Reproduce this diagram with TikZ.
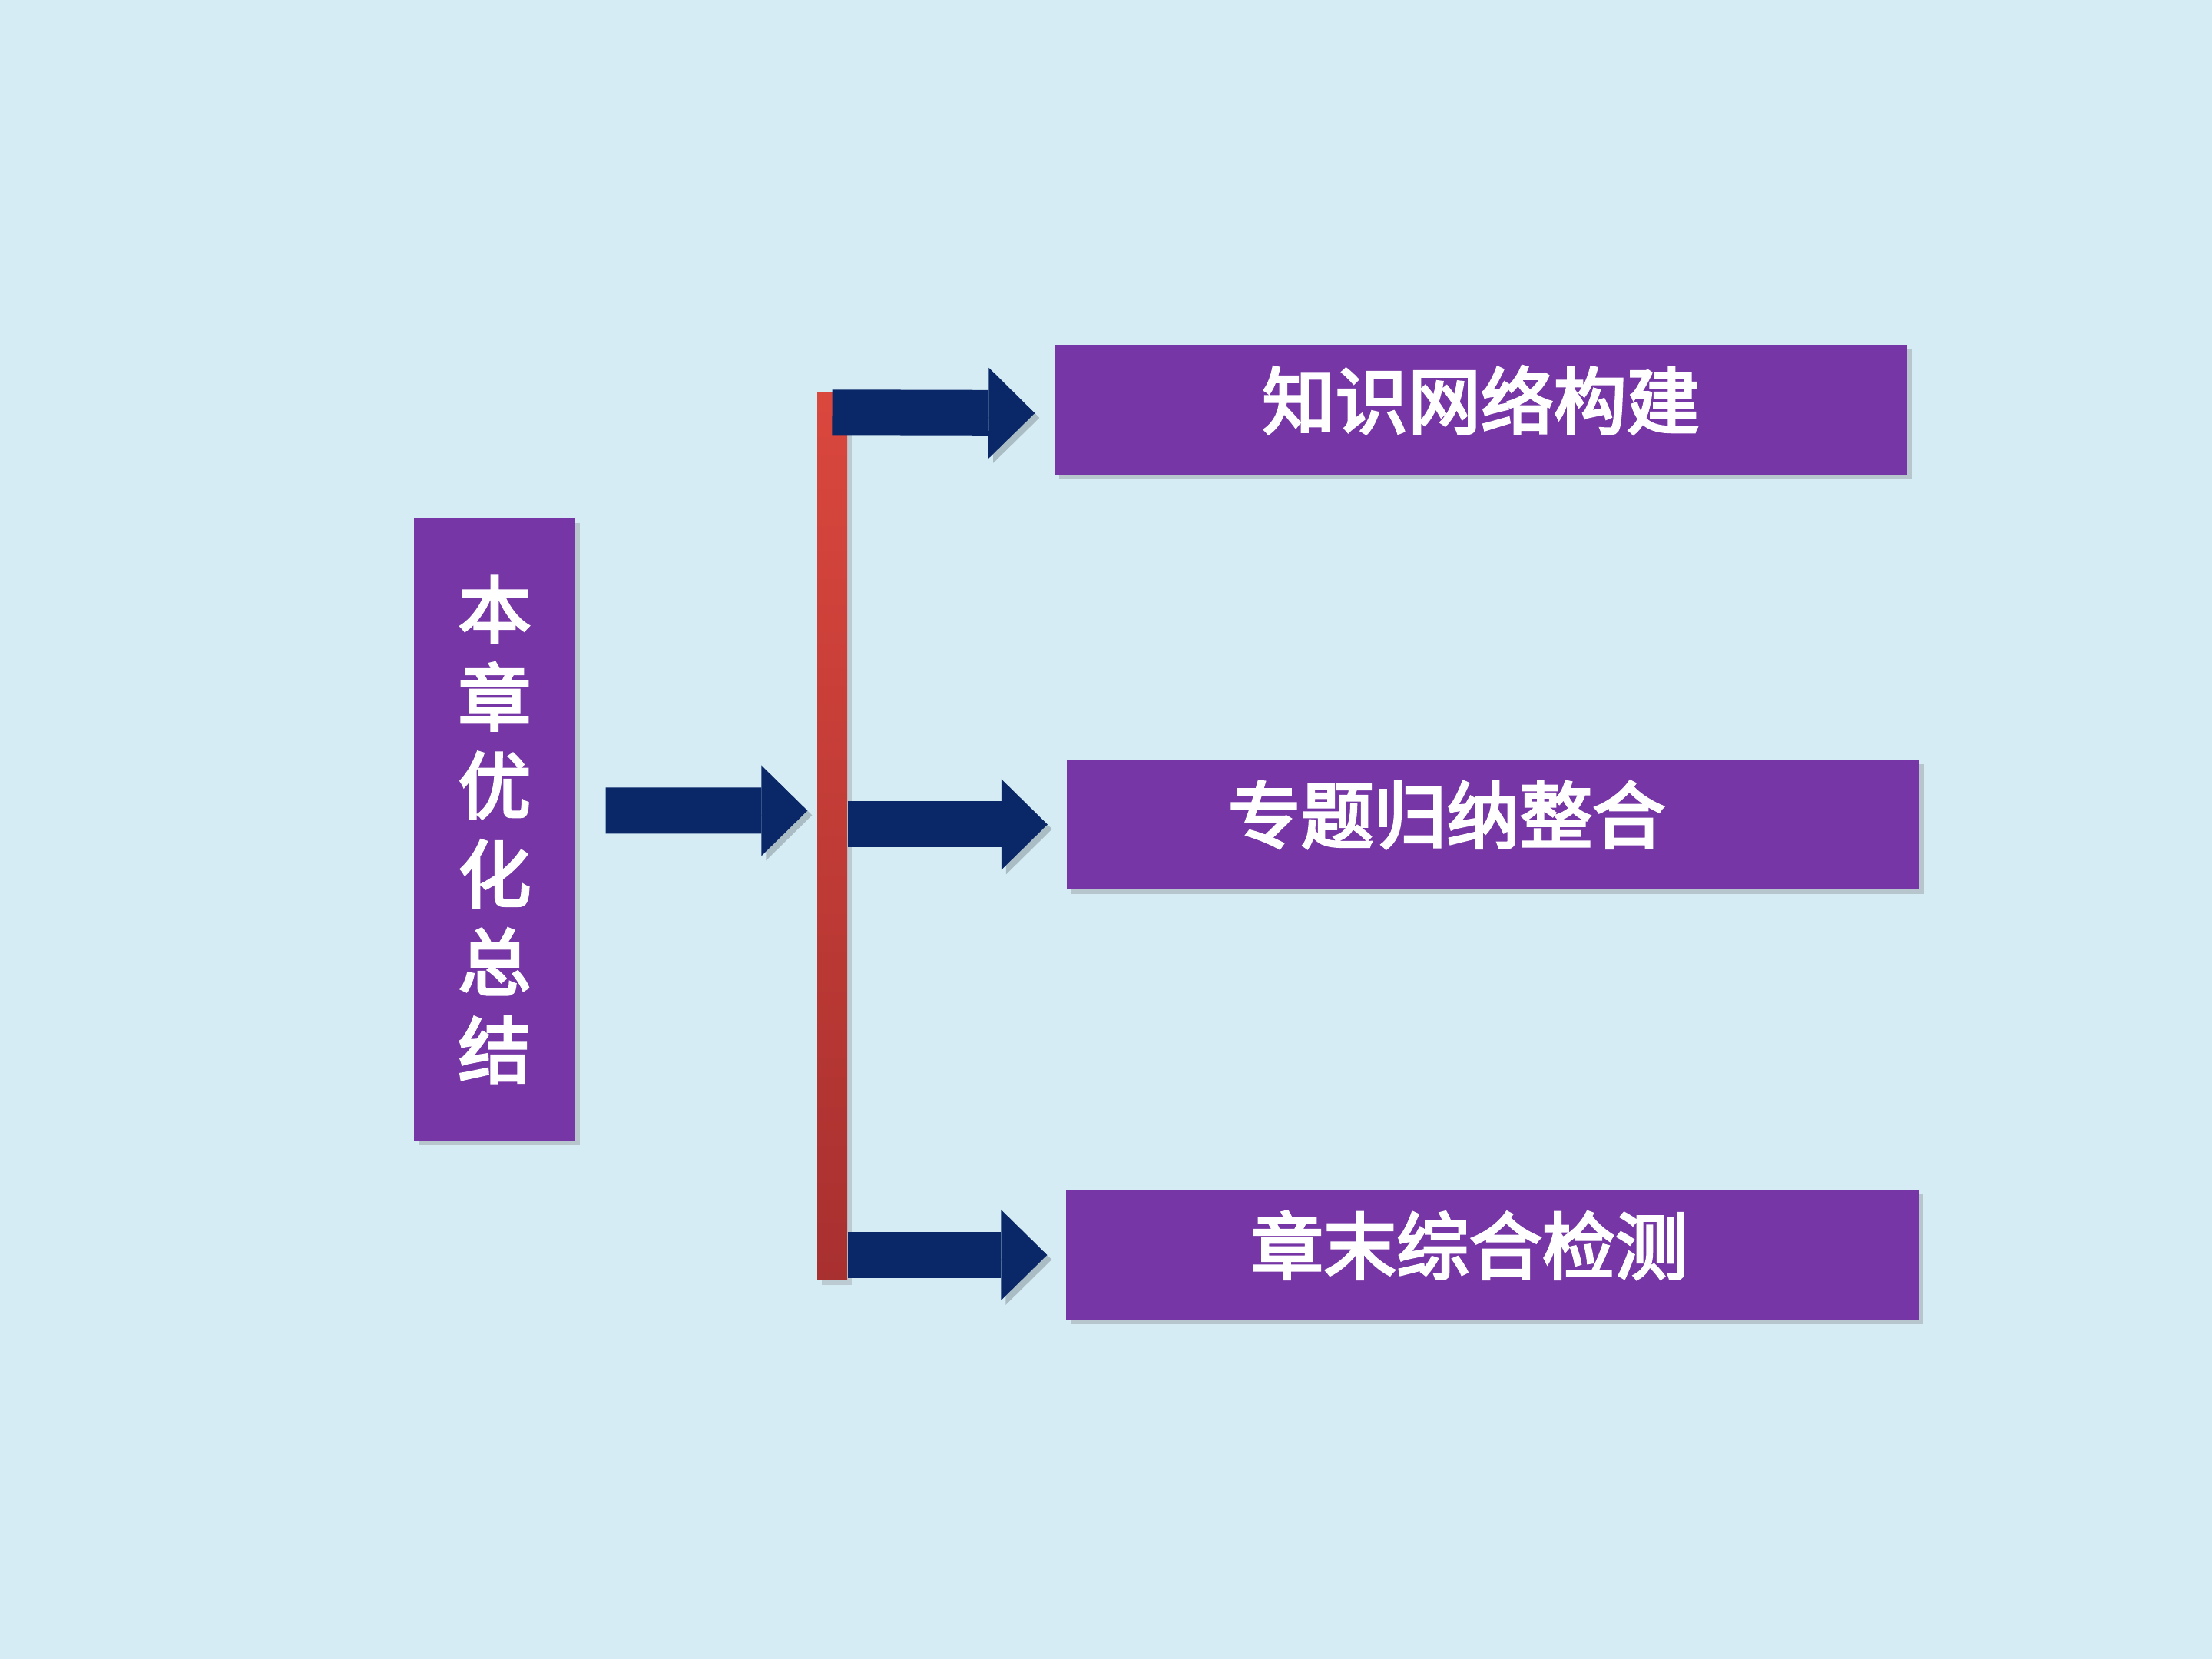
\documentclass[tikz,border=0pt]{standalone}
\usepackage{fontspec}
\newfontfamily\cjk{Noto Sans CJK SC}[FakeBold=3.5]
\usetikzlibrary{arrows.meta,shadows}

\definecolor{bgblue}{RGB}{213,236,245}
\definecolor{boxpurple}{RGB}{119,54,165}
\definecolor{arrnavy}{RGB}{10,39,104}
\definecolor{bartop}{RGB}{218,71,61}
\definecolor{barbot}{RGB}{168,48,47}

\begin{document}
\begin{tikzpicture}[
  box/.style={fill=boxpurple, rectangle, text=white, inner sep=0pt,
              font=\cjk\fontsize{27}{32.7}\selectfont, align=center,
              drop shadow={shadow xshift=0.6mm, shadow yshift=-0.6mm, opacity=0.35}},
  wide/.style={box, minimum width=11.1cm, minimum height=1.69cm, text depth=3.3mm},
  redbar/.style={rectangle, top color=bartop, bottom color=barbot, inner sep=0pt,
              drop shadow={shadow xshift=0.6mm, shadow yshift=-0.6mm, opacity=0.3}},
  big/.style={draw=arrnavy, line width=6mm,
              -{Triangle[length=6mm, width=11.8mm, line width=0pt]},
              preaction={draw=black, opacity=0.2,
                         transform canvas={shift={(0.6mm,-0.6mm)}}}}]

  \fill[bgblue] (0,0) rectangle (28.8,21.6);
  \useasboundingbox (0,0) rectangle (28.8,21.6);

  \node[box, minimum width=2.10cm, minimum height=8.10cm]  (sum)   at (6.44,10.80)  {本\\章\\优\\化\\总\\结};
  \node[redbar, minimum width=0.39cm, minimum height=11.56cm] (spine) at (10.835,10.71) {};
  \node[wide] (net)   at (19.28,16.265) {知识网络构建};
  \node[wide] (topic) at (19.435,10.865) {专题归纳整合\hspace*{1.2cm}};
  \node[wide] (test)  at (19.43,5.26)   {章末综合检测\hspace*{0.6cm}};

  \draw[big] ([xshift=3.9mm,yshift=2.45mm]sum.east) -- ([xshift=-1.2mm,yshift=3.35mm]spine.west);
  \draw[big] ([yshift=-2.7mm]spine.north) -- ([xshift=-2.5mm,yshift=-0.45mm]net.west);
  \draw[big] (spine.east |- topic.west) -- ([xshift=-2.4mm]topic.west);
  \draw[big] (spine.east |- test.west) -- ([xshift=-2.4mm]test.west);

\end{tikzpicture}
\end{document}
